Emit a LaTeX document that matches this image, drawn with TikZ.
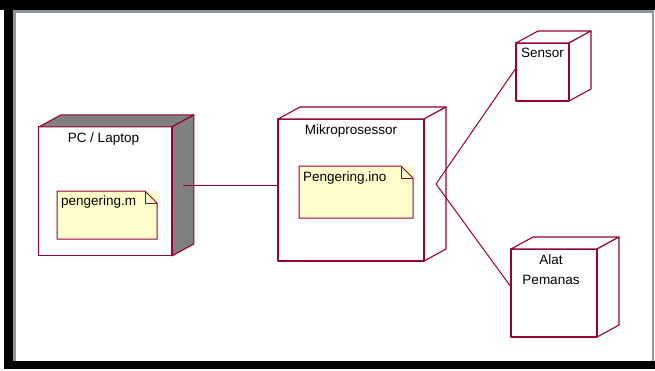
\documentclass[tikz,border=0pt]{standalone}
\usepackage{fontspec}
\setmainfont{Liberation Sans}
\usetikzlibrary{positioning}

\definecolor{roseline}{RGB}{153,0,51}
\definecolor{notefill}{RGB}{255,255,204}
\definecolor{sidegrey}{RGB}{128,128,128}
\definecolor{framegrey}{RGB}{140,150,160}

\tikzset{
  nodeline/.style={draw=roseline,line width=1.1pt,line join=round},
  nodebox/.style={rectangle,nodeline,fill=white,outer sep=0pt,inner sep=0pt},
  artifact/.style={rectangle,fill=notefill,outer sep=0pt,inner sep=0pt},
  boxtext/.style={font=\fontsize{13.5}{20}\selectfont,inner sep=0pt,align=center},
  wire/.style={draw=roseline,line width=1pt}
}

% top and side face of a deployment node
\newcommand{\nodedepth}[2]{%
  \draw[nodeline,fill=#2] (#1.north west) -- ++(22,-12) -- ([shift={(22,-12)}]#1.north east) -- (#1.north east) -- cycle;
  \draw[nodeline,fill=#2] (#1.north east) -- ++(22,-12) -- ([shift={(22,-12)}]#1.south east) -- (#1.south east) -- cycle;
  \draw[roseline,line width=2pt] (#1.north east) -- (#1.south east);
}
% outline of an artifact with folded corner
\newcommand{\noteline}[1]{%
  \draw[nodeline,line width=1pt] (#1.north west) -- ([xshift=-12pt]#1.north east) -- ([yshift=-12pt]#1.north east) -- (#1.south east) -- (#1.south west) -- cycle;
  \draw[nodeline,line width=0.8pt] ([xshift=-12pt]#1.north east) -- ([shift={(-12pt,-12pt)}]#1.north east) -- ([yshift=-12pt]#1.north east);
}

\begin{document}
\begin{tikzpicture}[x=1pt,y=-1pt]
  \useasboundingbox (0,0) rectangle (655,370);
  % window frame
  \fill[black] (0,0) rectangle (655,10);
  \fill[black] (4,0) rectangle (13,369);
  \fill[black] (4,361) rectangle (655,369);
  \fill[framegrey] (13,10) rectangle (653,13);
  \fill[framegrey] (13,10) rectangle (16,361);
  \fill[framegrey] (652,10) rectangle (654,361);

  % nodes
  \node[nodebox,minimum width=133pt,minimum height=129pt] (pc) at (105.4,191.4) {};
  \nodedepth{pc}{sidegrey}
  \node[nodebox,minimum width=146pt,minimum height=142pt] (mikro) at (351,190) {};
  \nodedepth{mikro}{white}
  \node[nodebox,minimum width=53pt,minimum height=58pt] (sensor) at (542.5,72) {};
  \nodedepth{sensor}{white}
  \node[nodebox,minimum width=86pt,minimum height=88pt] (alat) at (554,293) {};
  \nodedepth{alat}{white}

  \node[boxtext,anchor=north,below=5.5pt of pc.north,xshift=-2pt] (pclabel) {PC / Laptop};
  \node[boxtext,anchor=north,below=6pt of mikro.north] (mikrolabel) {Mikroprosessor};
  \node[boxtext,anchor=north,below=5pt of sensor.north] (sensorlabel) {Sensor};
  \node[boxtext,anchor=north,below=6pt of alat.north,xshift=-3pt] (alatlabel) {Alat\\Pemanas};

  % artifacts
  \node[artifact,minimum width=100pt,minimum height=48pt] (penm) at (107,215) {};
  \noteline{penm}
  \node[boxtext,anchor=north west] (penmtext) at ([shift={(4pt,-5pt)}]penm.north west) {pengering.m};
  \node[artifact,minimum width=114pt,minimum height=52pt] (penino) at (356,192) {};
  \noteline{penino}
  \node[boxtext,anchor=north west] (peninotext) at ([shift={(4pt,-5.5pt)}]penino.north west) {Pengering.ino};

  % connections
  \coordinate (pcport) at (183,185.5);
  \coordinate (hub) at (436,184);
  \draw[wire] (pcport) -- (mikro.west |- pcport);
  \draw[wire] (hub) -- ([yshift=4pt]sensor.west);
  \draw[wire] (hub) -- ([yshift=6pt]alat.west);
\end{tikzpicture}
\end{document}
